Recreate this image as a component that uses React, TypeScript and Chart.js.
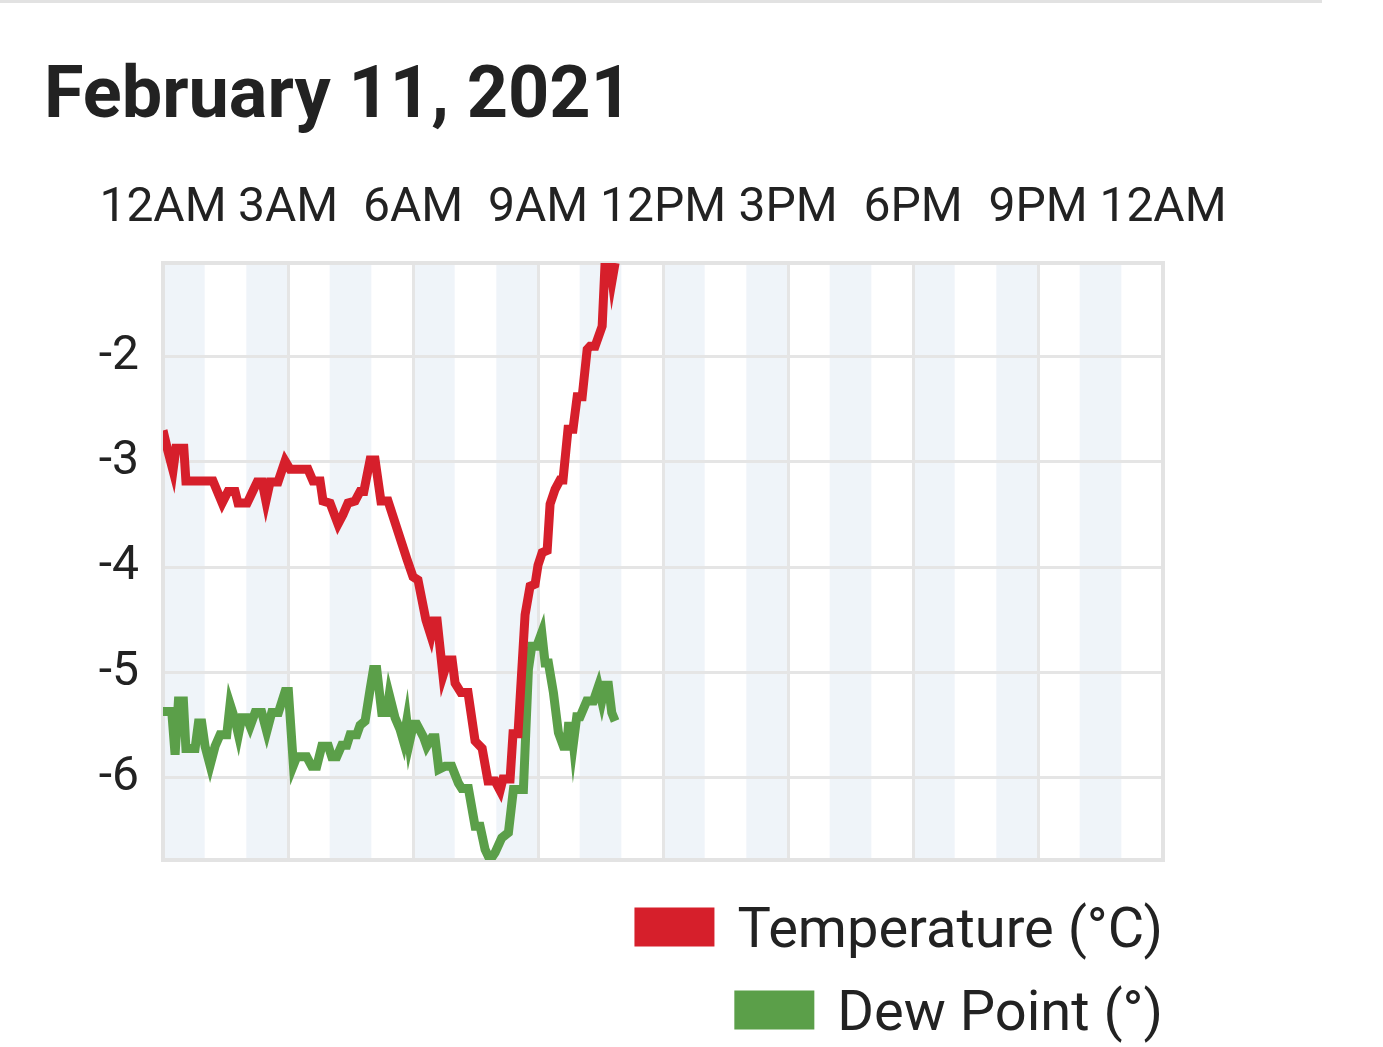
import { useEffect, useRef } from 'react';
import { Chart, registerables } from 'chart.js';

Chart.register(...registerables);

const titleText = 'February 11, 2021';

// x axis: hours of the day
const xTickHours = [0, 3, 6, 9, 12, 15, 18, 21, 24];
const xTickLabels = ['12AM', '3AM', '6AM', '9AM', '12PM', '3PM', '6PM', '9PM', '12AM'];
const yTicks = [-6, -5, -4, -3, -2];

// Temperature (°C)
const tempHours = [
  0.0, 0.12, 0.24, 0.31, 0.5, 0.55, 1.2, 1.42, 1.56, 1.73, 1.8, 2.02, 2.14, 2.26, 2.38, 2.47,
  2.57, 2.76, 2.93, 3.05, 3.48, 3.6, 3.77, 3.84, 4.01, 4.2, 4.32, 4.44, 4.61, 4.73, 4.82, 4.97,
  5.09, 5.23, 5.4, 5.86, 6.0, 6.12, 6.31, 6.43, 6.5, 6.58, 6.72, 6.84, 6.94, 7.01, 7.15, 7.32,
  7.49, 7.66, 7.8, 7.97, 8.09, 8.16, 8.33, 8.4, 8.52, 8.69, 8.81, 8.93, 9.0, 9.1, 9.22, 9.29,
  9.41, 9.53, 9.6, 9.72, 9.84, 9.94, 10.06, 10.18, 10.25, 10.37, 10.54, 10.61, 10.73, 10.78, 10.85,
];
const tempValues = [
  -2.7, -2.9, -3.08, -2.87, -2.87, -3.18, -3.18, -3.39, -3.28, -3.28, -3.39, -3.39, -3.29, -3.19, -3.19, -3.37,
  -3.19, -3.19, -2.99, -3.07, -3.07, -3.18, -3.18, -3.37, -3.39, -3.59, -3.5, -3.39, -3.37, -3.28, -3.28, -2.98,
  -2.98, -3.37, -3.37, -3.93, -4.09, -4.12, -4.5, -4.65, -4.51, -4.51, -5.03, -4.88, -4.88, -5.1, -5.19, -5.19,
  -5.65, -5.72, -6.03, -6.03, -6.12, -6.01, -6.01, -5.58, -5.58, -4.45, -4.18, -4.16, -3.98, -3.86, -3.84, -3.4,
  -3.26, -3.17, -3.17, -2.69, -2.69, -2.38, -2.38, -1.93, -1.9, -1.9, -1.71, -1.11, -1.11, -1.27, -1.11,
];

// Dew point (°)
const dewHours = [
  0.0, 0.21, 0.29, 0.37, 0.49, 0.55, 0.77, 0.85, 0.93, 1.01, 1.13, 1.25, 1.37, 1.53, 1.61, 1.73,
  1.81, 1.89, 2.01, 2.09, 2.21, 2.37, 2.49, 2.61, 2.77, 2.93, 3.01, 3.13, 3.21, 3.45, 3.57, 3.69,
  3.81, 3.97, 4.05, 4.17, 4.29, 4.41, 4.49, 4.65, 4.73, 4.85, 4.97, 5.05, 5.13, 5.25, 5.37, 5.43,
  5.57, 5.69, 5.77, 5.85, 5.91, 6.01, 6.09, 6.25, 6.33, 6.45, 6.53, 6.62, 6.77, 6.93, 7.09, 7.17,
  7.33, 7.49, 7.61, 7.73, 7.85, 7.97, 8.13, 8.29, 8.41, 8.65, 8.77, 8.85, 8.97, 9.09, 9.17, 9.25,
  9.37, 9.49, 9.61, 9.69, 9.73, 9.81, 9.85, 9.93, 10.01, 10.17, 10.33, 10.45, 10.53, 10.61, 10.69, 10.77,
  10.85,
];
const dewValues = [
  -5.37, -5.37, -5.78, -5.27, -5.27, -5.72, -5.72, -5.48, -5.48, -5.7, -5.88, -5.7, -5.59, -5.59, -5.3, -5.45,
  -5.59, -5.43, -5.43, -5.51, -5.38, -5.38, -5.56, -5.38, -5.38, -5.18, -5.18, -5.88, -5.8, -5.8, -5.89, -5.89,
  -5.7, -5.7, -5.8, -5.8, -5.69, -5.69, -5.59, -5.59, -5.5, -5.46, -5.16, -4.97, -4.97, -5.38, -5.38, -5.21,
  -5.43, -5.54, -5.65, -5.46, -5.67, -5.49, -5.49, -5.61, -5.7, -5.62, -5.62, -5.92, -5.89, -5.89, -6.05, -6.1,
  -6.1, -6.46, -6.46, -6.68, -6.78, -6.71, -6.57, -6.52, -6.11, -6.11, -4.97, -4.75, -4.75, -4.62, -4.91, -4.91,
  -5.19, -5.57, -5.7, -5.7, -5.51, -5.51, -5.67, -5.42, -5.42, -5.27, -5.27, -5.13, -5.27, -5.12, -5.12, -5.38,
  -5.46,
];

const seriesLabels = ['Temperature (°C)', 'Dew Point (°)'];
const seriesColors = ['#d61f2b', '#5b9f49'];

const textColor = '#222222';
const gridColor = '#e5e5e5';

const toPoints = (xs: number[], ys: number[]) => xs.map((x, i) => ({ x, y: ys[i] }));

// light bands on every other hour
const hourBands = {
  id: 'hourBands',
  beforeDraw(chart: any) {
    const { ctx, chartArea: a, scales } = chart;
    const x = scales.x;
    ctx.save();
    ctx.fillStyle = '#eff4f9';
    for (let h = 0; h < 24; h += 2) {
      const l = x.getPixelForValue(h);
      const r = x.getPixelForValue(h + 1);
      ctx.fillRect(l, a.top, r - l, a.bottom - a.top);
    }
    ctx.restore();
  },
};

// grey frame round the plot
const plotFrame = {
  id: 'plotFrame',
  beforeDatasetsDraw(chart: any) {
    const { ctx, chartArea: a } = chart;
    ctx.save();
    ctx.strokeStyle = '#e3e3e3';
    ctx.lineWidth = 4;
    ctx.strokeRect(a.left, a.top, a.right - a.left, a.bottom - a.top);
    ctx.restore();
  },
};

// legend: one item per row, right aligned under the plot
const stackedLegend = {
  id: 'stackedLegend',
  afterDraw(chart: any) {
    const { ctx, chartArea: a } = chart;
    const boxW = 80;
    const boxH = 39;
    const gap = 23;
    const rowY = [a.bottom + 67, a.bottom + 150];
    ctx.save();
    ctx.font = '56px Roboto';
    ctx.textBaseline = 'alphabetic';
    ctx.textAlign = 'left';
    chart.data.datasets.forEach((ds: any, i: number) => {
      const w = ctx.measureText(ds.label).width;
      const tx = a.right - w;
      const bx = tx - gap - boxW;
      ctx.fillStyle = ds.borderColor;
      ctx.fillRect(bx, rowY[i] - boxH / 2, boxW, boxH);
      ctx.fillStyle = textColor;
      ctx.fillText(ds.label, tx, rowY[i] + 20);
    });
    ctx.restore();
  },
};

const WeatherChart = () => {
  const canvasRef = useRef<HTMLCanvasElement>(null);

  useEffect(() => {
    if (!canvasRef.current) return;
    const allValues = [...tempValues, ...dewValues];
    const chart = new Chart(canvasRef.current, {
      type: 'line',
      data: {
        datasets: [
          {
            label: seriesLabels[0],
            data: toPoints(tempHours, tempValues),
            borderColor: seriesColors[0],
            backgroundColor: seriesColors[0],
            borderWidth: 9,
            pointRadius: 0,
            tension: 0,
            clip: 0,
          },
          {
            label: seriesLabels[1],
            data: toPoints(dewHours, dewValues),
            borderColor: seriesColors[1],
            backgroundColor: seriesColors[1],
            borderWidth: 9,
            pointRadius: 0,
            tension: 0,
            clip: 0,
          },
        ],
      },
      options: {
        animation: false,
        responsive: true,
        maintainAspectRatio: false,
        layout: { padding: { top: 0, left: 0, right: 220, bottom: 187 } },
        plugins: {
          legend: { display: false },
          tooltip: { enabled: false },
        },
        scales: {
          x: {
            type: 'linear',
            position: 'top',
            min: 0,
            max: 24,
            afterBuildTicks: (scale: any) => {
              scale.ticks = xTickHours.map((v) => ({ value: v }));
            },
            afterFit: (scale: any) => {
              scale.height = 123;
            },
            grid: { color: gridColor, lineWidth: 3, drawTicks: false },
            border: { display: false },
            ticks: {
              autoSkip: false,
              maxRotation: 0,
              minRotation: 0,
              padding: 25,
              color: textColor,
              font: { family: 'Roboto', size: 48 },
              callback: (v: any) => xTickLabels[xTickHours.indexOf(Number(v))],
            },
          },
          y: {
            type: 'linear',
            min: Math.min(...allValues),
            max: Math.max(...allValues),
            afterBuildTicks: (scale: any) => {
              scale.ticks = yTicks.map((v) => ({ value: v }));
            },
            afterFit: (scale: any) => {
              scale.width = 163;
            },
            grid: { color: gridColor, lineWidth: 3, drawTicks: false },
            border: { display: false },
            ticks: {
              padding: 24,
              color: textColor,
              font: { family: 'Roboto', size: 48 },
              callback: (v: any) => String(v),
            },
          },
        },
      },
      plugins: [hourBands, plotFrame, stackedLegend],
    });
    return () => chart.destroy();
  }, []);

  return (
    <div style={{ position: 'absolute', left: 0, top: 140, width: 1383, height: 907 }}>
      <canvas ref={canvasRef} />
    </div>
  );
};

export default function App() {
  return (
    <div
      style={{
        position: 'absolute',
        left: 0,
        top: 0,
        width: 1383,
        height: 1047,
        overflow: 'hidden',
        background: '#ffffff',
        fontFamily: 'Roboto, sans-serif',
      }}
    >
      <div style={{ position: 'absolute', left: 0, top: 0, width: 1322, height: 3, background: '#e2e2e2' }} />
      <div
        style={{
          position: 'absolute',
          left: 44,
          top: 57,
          fontSize: 72,
          lineHeight: 1,
          fontWeight: 700,
          color: textColor,
          whiteSpace: 'nowrap',
        }}
      >
        {titleText}
      </div>
      <WeatherChart />
    </div>
  );
}
